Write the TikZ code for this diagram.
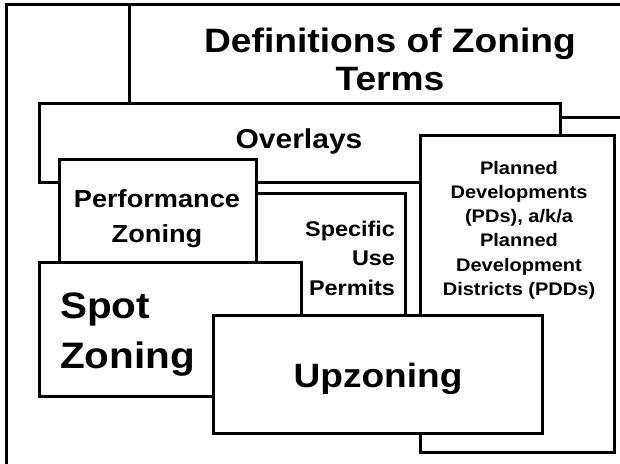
\documentclass[tikz,border=0pt]{standalone}
\usepackage{fontspec}
\newfontfamily\dfont{Liberation Sans}[FakeStretch=1.1]
\begin{document}
\begin{tikzpicture}[x=1pt,y=-1pt,
  box/.style={draw=black, fill=white, line width=3pt, inner sep=0pt, outer sep=0pt, anchor=north west},
  lbl/.style={inner sep=0pt, outer sep=0pt, font=\dfont\bfseries}]
\useasboundingbox (0,0) rectangle (620,463);
\clip (0,0) rectangle (620,463);
\fill[white] (0,0) rectangle (620,463);
% back layers
\node[box, minimum width=713.5pt, minimum height=555.5pt] (frame) at (6.5,4.5) {};
\node[box, minimum width=591pt, minimum height=112.5pt] (defbox) at (129,4.5) {};
\node[lbl, anchor=base, font=\dfont\bfseries\fontsize{33.8}{38}\selectfont] (deftext) at (390,52)
  {\begin{tabular}[t]{@{}c@{}}Definitions of Zoning\\Terms\end{tabular}};
% overlays
\node[box, minimum width=520.5pt, minimum height=79pt] (ovbox) at (39.5,103) {};
\node[lbl, anchor=base, font=\dfont\bfseries\fontsize{27.3}{30}\selectfont] (ovtext) at (299,148) {Overlays};
% planned developments
\node[box, minimum width=194pt, minimum height=317pt] (pddbox) at (420,135) {};
\node[lbl, anchor=base, font=\dfont\bfseries\fontsize{18.2}{24.3}\selectfont] (pddtext) at (519,174)
  {\begin{tabular}[t]{@{}c@{}}Planned\\Developments\\(PDs), a/k/a\\Planned\\Development\\Districts (PDDs)\end{tabular}};
% specific use permits
\node[box, minimum width=175pt, minimum height=207pt] (supbox) at (230,193) {};
\node[lbl, anchor=base east, font=\dfont\bfseries\fontsize{21.3}{29.5}\selectfont] (suptext) at (395,236)
  {\begin{tabular}[t]{@{}r@{}}Specific\\Use\\Permits\end{tabular}};
% performance zoning
\node[box, minimum width=197pt, minimum height=141pt] (perfbox) at (59,159) {};
\node[lbl, anchor=base, font=\dfont\bfseries\fontsize{24.7}{35}\selectfont] (perftext) at (157,207)
  {\begin{tabular}[t]{@{}c@{}}Performance\\Zoning\end{tabular}};
% spot zoning
\node[box, minimum width=262.5pt, minimum height=134pt] (spotbox) at (39,262) {};
\node[lbl, anchor=base west, font=\dfont\bfseries\fontsize{36.8}{50}\selectfont] (spottext) at (60,318)
  {\begin{tabular}[t]{@{}l@{}}Spot\\Zoning\end{tabular}};
% upzoning
\node[box, minimum width=329pt, minimum height=117.5pt] (upbox) at (213,315.5) {};
\node[lbl, anchor=base, font=\dfont\bfseries\fontsize{33.7}{38}\selectfont] (uptext) at (378,387) {Upzoning};
\end{tikzpicture}
\end{document}
